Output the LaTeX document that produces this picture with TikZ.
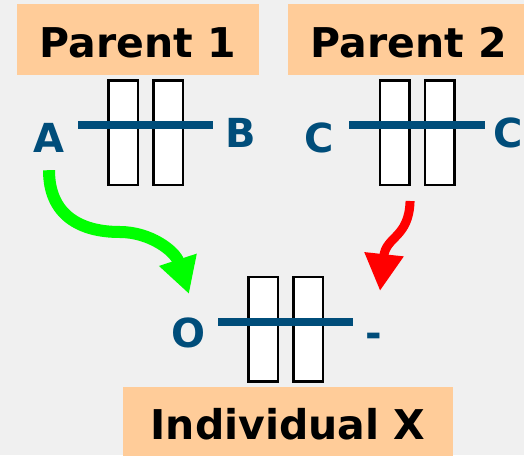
\documentclass[tikz,border=0pt]{standalone}
\usepackage{fontspec}
\setmainfont{DejaVu Sans}
\usetikzlibrary{arrows.meta,positioning}

\definecolor{peach}{HTML}{FFCC99}
\definecolor{allele}{HTML}{004D7A}
\definecolor{bggray}{HTML}{F0F0F0}

\begin{document}
\begin{tikzpicture}[x=1pt,y=-1pt,node distance=13pt,
  titlebox/.style={fill=peach,inner sep=0pt,minimum height=71pt,text height=35pt,text depth=0pt,
    font=\bfseries\fontsize{41}{41}\selectfont},
  arm/.style={draw=black,fill=white,line width=2.5pt,minimum width=29.5pt,minimum height=104.5pt,inner sep=0pt},
  locus/.style={draw=allele,line width=8.5pt},
  gene/.style={text=allele,anchor=base,inner sep=0pt,font=\bfseries\fontsize{40}{40}\selectfont}]

  \fill[bggray] (0,0) rectangle (524,455);
  \useasboundingbox (0,0) rectangle (524,455);

  % parents and child
  \node[titlebox,minimum width=242pt] (p1) at (138,39.5) {Parent 1};
  \node[titlebox,minimum width=242pt] (p2) at (409,39.5) {Parent 2};
  \node[titlebox,minimum width=330pt,text height=34pt] (ix) at (288,422.5) {Individual X};

  % chromosome pairs
  \node[arm] (a1) at (123,132.5) {};
  \node[arm,right=of a1] (a2) {};
  \node[arm] (c1) at (394.5,132.5) {};
  \node[arm,right=of c1] (c2) {};
  \node[arm] (x1) at (263,329) {};
  \node[arm,right=of x1] (x2) {};

  \draw[locus] (78,125) -- (213,125);
  \draw[locus] (349,125) -- (485,125);
  \draw[locus] (218,322) -- (353,322);

  % alleles
  \node[gene] (A) at (49,152) {A};
  \node[gene] (B) at (241,147) {B};
  \node[gene] (Cl) at (319,152) {C};
  \node[gene] (Cr) at (508,147) {C};
  \node[gene] (O) at (188,347) {O};
  \node[gene] (nul) at (374,347) {-};

  \coordinate (gtip) at (189,294);
  \coordinate (rtip) at (380,291);

  \draw[green,line width=12pt,shorten <=18pt,-{Triangle[width=37pt,length=36pt]}]
    (A.south) .. controls (49,215) and (80,232) .. (120,232)
              .. controls (150,232) and (175,251) .. (gtip);
  \draw[red,line width=9pt,shorten <=15pt,-{Triangle[width=37pt,length=37pt]}]
    (c1.south east) .. controls (409,238) and (386,236) .. (rtip);
\end{tikzpicture}
\end{document}
